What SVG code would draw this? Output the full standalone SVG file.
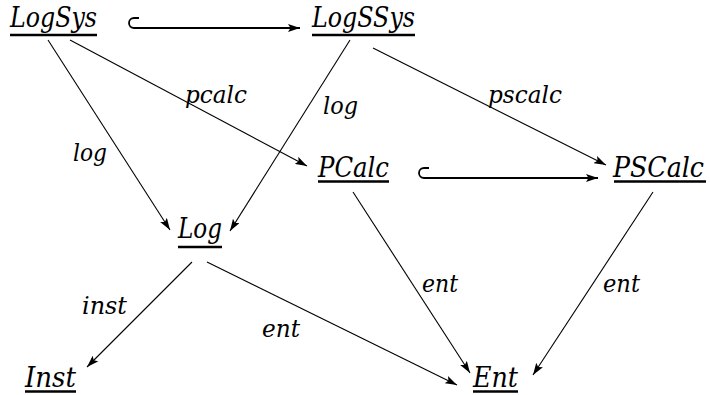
<svg xmlns="http://www.w3.org/2000/svg" width="710" height="395" viewBox="0 0 710 395">
<style>
text{font-family:'DejaVu Serif','Liberation Serif',serif;font-style:italic;fill:#000}
.n{font-size:28px}
.l{font-size:25px}
.u{stroke:#000;stroke-width:2.6;fill:none}
.e{stroke:#000;stroke-width:1.1;fill:none;marker-end:url(#ah)}
.h{stroke:#000;stroke-width:1.8;fill:none}
</style>
<defs>
<marker id="ah" viewBox="0 0 12 8" refX="12" refY="4" markerWidth="12" markerHeight="8" markerUnits="userSpaceOnUse" orient="auto">
<path d="M0,0 L12,4 L0,8 L2.5,4 z" fill="#000"/>
</marker>
</defs>
<g id="connectors">
<path class="h" d="M139,18 L134,18 A5,5 0 0 0 134,28"/>
<path class="h" d="M134,28 L300,28" style="marker-end:url(#ah)"/>
<path class="h" d="M429,168 L424,168 A5,5 0 0 0 424,178"/>
<path class="h" d="M424,178 L598,178" style="marker-end:url(#ah)"/>
<line class="e" x1="48" y1="40" x2="170" y2="230"/>
<line class="e" x1="70" y1="40" x2="307" y2="166"/>
<line class="e" x1="350" y1="40" x2="230" y2="231"/>
<line class="e" x1="373" y1="48" x2="606" y2="165"/>
<line class="e" x1="353" y1="192" x2="470" y2="373"/>
<line class="e" x1="653" y1="192" x2="533" y2="375"/>
<line class="e" x1="192" y1="262" x2="87" y2="367"/>
<line class="e" x1="207" y1="262" x2="457" y2="385"/>
<text class="l" x="185" y="103" textLength="62" lengthAdjust="spacingAndGlyphs">pcalc</text>
<text class="l" x="323" y="114" textLength="35" lengthAdjust="spacingAndGlyphs">log</text>
<text class="l" x="488" y="103" textLength="74" lengthAdjust="spacingAndGlyphs">pscalc</text>
<text class="l" x="73" y="161" textLength="34" lengthAdjust="spacingAndGlyphs">log</text>
<text class="l" x="82" y="314" textLength="45" lengthAdjust="spacingAndGlyphs">inst</text>
<text class="l" x="262" y="337" textLength="38" lengthAdjust="spacingAndGlyphs">ent</text>
<text class="l" x="422" y="292" textLength="36" lengthAdjust="spacingAndGlyphs">ent</text>
<text class="l" x="603" y="292" textLength="37" lengthAdjust="spacingAndGlyphs">ent</text>
</g>
<g id="LogSys">
<text class="n" x="10" y="27" textLength="87" lengthAdjust="spacingAndGlyphs">LogSys</text>
<line class="u" x1="10" y1="35" x2="97" y2="35"/>
</g>
<g id="LogSSys">
<text class="n" x="312" y="27" textLength="103" lengthAdjust="spacingAndGlyphs">LogSSys</text>
<line class="u" x1="312" y1="35" x2="415" y2="35"/>
</g>
<g id="PCalc">
<text class="n" x="318" y="177" textLength="71" lengthAdjust="spacingAndGlyphs">PCalc</text>
<line class="u" x1="318" y1="181.5" x2="389" y2="181.5"/>
</g>
<g id="PSCalc">
<text class="n" x="613" y="177" textLength="91" lengthAdjust="spacingAndGlyphs">PSCalc</text>
<line class="u" x1="614" y1="181.5" x2="706" y2="181.5"/>
</g>
<g id="Log">
<text class="n" x="178" y="238" textLength="44" lengthAdjust="spacingAndGlyphs">Log</text>
<line class="u" x1="178" y1="247" x2="222" y2="247"/>
</g>
<g id="Inst">
<text class="n" x="25" y="387" textLength="51" lengthAdjust="spacingAndGlyphs">Inst</text>
<line class="u" x1="25" y1="391.5" x2="76" y2="391.5"/>
</g>
<g id="Ent">
<text class="n" x="473" y="387" textLength="45" lengthAdjust="spacingAndGlyphs">Ent</text>
<line class="u" x1="473" y1="391.5" x2="518" y2="391.5"/>
</g>
</svg>
